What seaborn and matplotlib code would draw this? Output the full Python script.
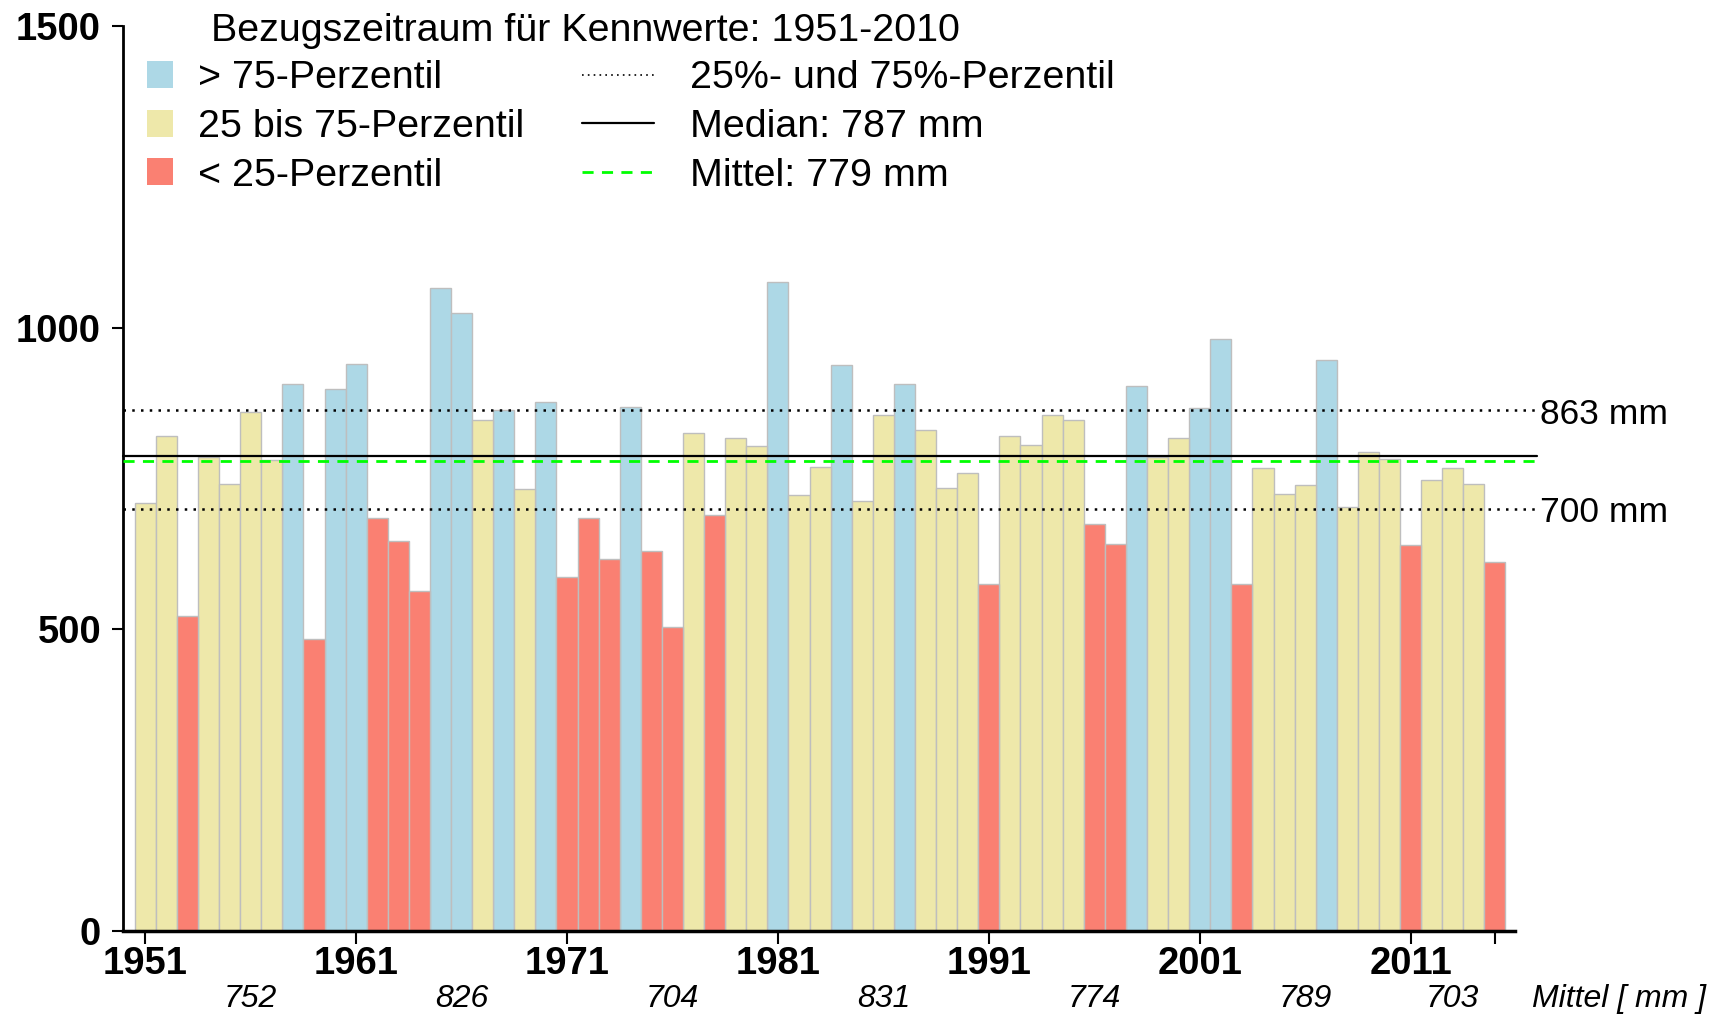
import numpy as np
import pandas as pd
import seaborn as sns
import matplotlib.pyplot as plt
import matplotlib.patches as mpatches
import matplotlib.transforms as mtransforms
from matplotlib.lines import Line2D

# Daten: Jahresniederschlag [mm]
jahre = list(range(1951, 2016))
niederschlag = [710, 820, 522, 785, 741, 861, 780, 907, 484, 898,
                940, 685, 647, 564, 1066, 1024, 847, 864, 733, 877,
                586, 684, 617, 869, 630, 504, 826, 690, 818, 804,
                1076, 723, 770, 938, 713, 855, 907, 830, 735, 759,
                576, 820, 806, 855, 847, 674, 642, 903, 786, 818,
                867, 981, 576, 768, 725, 739, 947, 703, 794, 783,
                640, 747, 768, 741, 611]

# Kennwerte (Bezugszeitraum 1951-2010)
p25 = 700
p75 = 863
median = 787
mittel = 779

# Dekadenmittel
dekaden_jahre = [1956, 1966, 1976, 1986, 1996, 2006, 2013]
dekaden_mittel = [752, 826, 704, 831, 774, 789, 703]

# Achsenbeschriftung
ytick_werte = [0, 500, 1000, 1500]
xtick_jahre = [1951, 1961, 1971, 1981, 1991, 2001, 2011, 2015]
xtick_labels = ['1951', '1961', '1971', '1981', '1991', '2001', '2011', '']

klassen = ['> 75-Perzentil', '25 bis 75-Perzentil', '< 25-Perzentil']
farben = ['#ADD8E6', '#EEE8AA', '#FA8072']

df = pd.DataFrame({'Jahr': jahre, 'Niederschlag': niederschlag})
df['Klasse'] = np.where(df['Niederschlag'] > p75, klassen[0],
                        np.where(df['Niederschlag'] < p25, klassen[2], klassen[1]))

sns.set_style('ticks', {'axes.edgecolor': 'black', 'text.color': 'black',
                        'xtick.color': 'black', 'ytick.color': 'black',
                        'axes.labelcolor': 'black'})
plt.rcParams['font.family'] = ['Liberation Sans', 'DejaVu Sans']

fig = plt.figure(figsize=(17.13, 10.15), dpi=100)
ax = fig.add_axes([0.0720, 0.0828, 0.8124, 0.8914])

sns.barplot(data=df, x='Jahr', y='Niederschlag', hue='Klasse', hue_order=klassen,
            palette=farben, dodge=False, width=1, saturation=1, errorbar=None,
            edgecolor='#BEBEBE', linewidth=1, legend=False, ax=ax)

x0, x1 = -1.04, 64.95
ax.set_xlim(x0, x1)
ax.set_ylim(0, 1500)
sns.despine(ax=ax)
ax.spines['left'].set_linewidth(2)
ax.spines['bottom'].set_linewidth(2.5)
ax.set_xlabel('')
ax.set_ylabel('')

ax.set_yticks(ytick_werte)
ax.set_yticklabels([str(v) for v in ytick_werte])
ax.set_xticks([jahre.index(j) for j in xtick_jahre])
ax.set_xticklabels(xtick_labels)
ax.tick_params(axis='y', length=8, width=1.5, pad=8, labelsize=27.5)
ax.tick_params(axis='x', length=9.5, width=1.5, pad=1, labelsize=27.5)
for lbl in ax.get_xticklabels() + ax.get_yticklabels():
    lbl.set_fontweight('bold')

# Referenzlinien
x_end = 66.0
dots = (0, (1, 2.5))
for v in [p25, p75]:
    ax.plot([x0, x_end], [v, v], color='black', linestyle=dots, lw=1.8, clip_on=False, zorder=5)
    ax.annotate(f'{v} mm', xy=(x_end, v), xytext=(2, -3), textcoords='offset points',
                ha='left', va='center', fontsize=25.5, annotation_clip=False)
ax.plot([x0, x_end], [median, median], color='black', lw=1.6, clip_on=False, zorder=5)
ax.plot([x0, x_end], [mittel, mittel], color='#00FF00', linestyle=(0, (4, 3)), lw=2, clip_on=False, zorder=5)

# Dekadenmittel unter der Achse
trans = mtransforms.blended_transform_factory(ax.transData, ax.transAxes)
for j, m in zip(dekaden_jahre, dekaden_mittel):
    ax.text(jahre.index(j), -0.0754, str(m), transform=trans, ha='center', va='center',
            style='italic', fontsize=23)
ax.text(65.75, -0.0754, 'Mittel [ mm ]', transform=trans, ha='left', va='center',
        style='italic', fontsize=23)

# Legende
fig.text(0.1232, 0.969, 'Bezugszeitraum für Kennwerte: 1951-2010', ha='left', va='center', fontsize=28.4)
patch_handles = [mpatches.Patch(facecolor=f, edgecolor='none', label=k) for k, f in zip(klassen, farben)]
line_handles = [
    Line2D([], [], color='black', linestyle=(0, (1, 2.5)), lw=1.2, label='25%- und 75%-Perzentil'),
    Line2D([], [], color='black', lw=1.6, label=f'Median: {median} mm'),
    Line2D([], [], color='#00FF00', linestyle=(0, (4, 3)), lw=2, label=f'Mittel: {mittel} mm'),
]
leg_kw = dict(loc='upper left', frameon=False, fontsize=28.4, borderpad=0, borderaxespad=0, labelspacing=0.32)
fig.legend(handles=patch_handles, bbox_to_anchor=(0.0858, 0.9404), handlelength=0.65,
           handleheight=0.67, handletextpad=0.64, **leg_kw)
fig.legend(handles=line_handles, bbox_to_anchor=(0.3398, 0.9404), handlelength=1.83,
           handletextpad=0.9, **leg_kw)

fig.savefig('out.png', dpi=100)
